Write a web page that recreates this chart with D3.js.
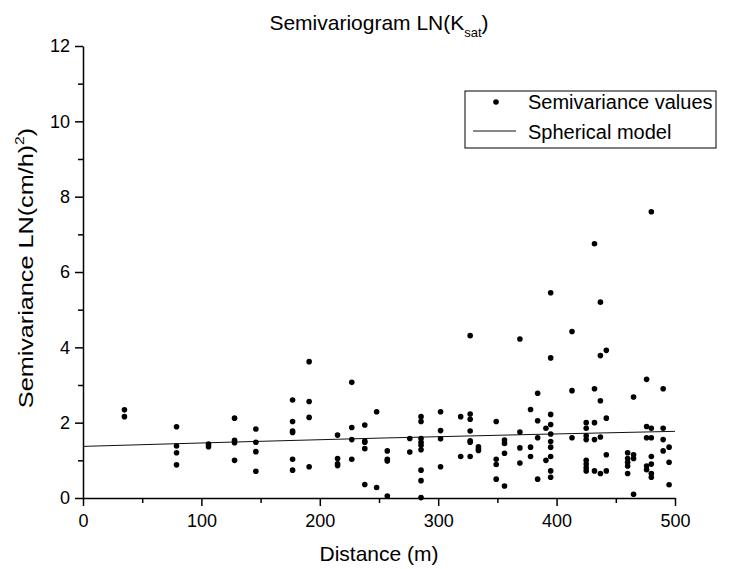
<!DOCTYPE html>
<html>
<head>
<meta charset="utf-8">
<script src="https://cdn.jsdelivr.net/npm/d3@7/dist/d3.min.js"></script>
<style>
  body { margin: 0; background: #fff; }
  text { font-family: "Liberation Sans", Arial, sans-serif; fill: #000; }
</style>
</head>
<body>
<div id="chart"></div>
<script>
const distances = [35, 79, 106, 128, 146, 177, 191, 215, 227, 238, 248, 257, 276, 285.5,
  302, 319, 327, 334, 349, 356, 369, 378, 384, 391, 395, 413, 425, 432, 437, 442,
  460, 465, 476, 480, 490, 495];
const semivariances = [
  [2.34, 2.16],
  [1.89, 1.38, 1.20, 0.88],
  [1.43, 1.36],
  [2.12, 1.53, 1.47, 1.00],
  [1.83, 1.48, 1.23, 0.71],
  [2.60, 2.03, 1.78, 1.74, 1.03, 0.74],
  [3.62, 2.56, 2.14, 0.83],
  [1.67, 1.05, 0.91, 0.86],
  [3.07, 1.87, 1.55, 1.03],
  [1.94, 1.51, 1.48, 1.31, 0.36],
  [2.29, 0.28],
  [1.25, 1.03, 0.98, 0.05],
  [1.58, 1.22],
  [2.16, 2.03, 1.58, 1.48, 1.40, 1.28, 0.74, 0.46, 0.01],
  [2.29, 1.79, 1.57, 0.83],
  [2.16, 1.10],
  [4.31, 2.23, 2.09, 1.78, 1.52, 1.48, 1.10],
  [1.36, 1.30, 1.26],
  [2.03, 1.03, 0.89, 0.50],
  [1.54, 1.45, 1.19, 0.32],
  [4.22, 1.75, 1.33, 0.93],
  [2.35, 1.35, 1.10],
  [2.78, 2.05, 1.60, 0.50],
  [1.85, 1.00],
  [5.45, 3.72, 2.22, 1.95, 1.70, 1.50, 1.35, 1.10, 0.72, 0.55],
  [4.42, 2.85, 1.60],
  [2.00, 1.85, 1.65, 1.55, 1.00, 0.90, 0.80, 0.72],
  [6.75, 2.90, 2.00, 1.55, 0.72],
  [5.20, 3.78, 2.58, 1.62, 0.65],
  [3.92, 2.12, 1.15, 0.72],
  [1.20, 1.05, 0.95, 0.85, 0.65],
  [2.68, 1.15, 1.05, 0.10],
  [3.15, 1.90, 1.60, 0.85, 0.75],
  [7.60, 1.85, 1.60, 1.10, 0.90, 0.65, 0.55],
  [2.90, 1.85, 1.55, 1.25],
  [1.35, 0.95, 0.35]
];
// fitted spherical model
const modelDistances = [0, 250, 500];
const modelValues = [1.37, 1.59, 1.77];

const xTicks = [0, 100, 200, 300, 400, 500];
const xMinorTicks = [50, 150, 250, 350, 450];
const yTicks = [0, 2, 4, 6, 8, 10, 12];
const yMinorTicks = [1, 3, 5, 7, 9, 11];

const width = 733, height = 569;
const margin = { top: 46, right: 58, bottom: 71, left: 83 };
const w = width - margin.left - margin.right;
const h = height - margin.top - margin.bottom;

const svg = d3.select("#chart").append("svg")
  .attr("width", width)
  .attr("height", height);

const g = svg.append("g")
  .attr("transform", `translate(${margin.left},${margin.top})`);

const x = d3.scaleLinear().domain([0, 500]).range([0, w]);
const y = d3.scaleLinear().domain([0, 12]).range([h, 0]);

// flatten columns into points
const points = [];
distances.forEach((d, i) => semivariances[i].forEach(v => points.push({ d: d, v: v })));

// model line
const model = modelDistances.map((d, i) => ({ d: d, v: modelValues[i] }));
g.append("path")
  .datum(model)
  .attr("fill", "none")
  .attr("stroke", "#111")
  .attr("stroke-width", 1)
  .attr("d", d3.line().x(d => x(d.d)).y(d => y(d.v)).curve(d3.curveMonotoneX));

// points
g.selectAll("circle.pt")
  .data(points)
  .enter()
  .append("circle")
  .attr("class", "pt")
  .attr("cx", d => x(d.d))
  .attr("cy", d => y(d.v))
  .attr("r", 2.8)
  .attr("fill", "#000");

// axes
g.append("g")
  .attr("transform", `translate(0,${h})`)
  .call(d3.axisBottom(x).tickValues(xTicks).tickSize(8).tickSizeOuter(0).tickPadding(8));
g.append("g")
  .attr("transform", `translate(0,${h})`)
  .call(d3.axisBottom(x).tickValues(xMinorTicks).tickSize(5).tickFormat(""))
  .select(".domain").remove();

g.append("g")
  .call(d3.axisLeft(y).tickValues(yTicks).tickSize(8).tickSizeOuter(0).tickPadding(5));
g.append("g")
  .call(d3.axisLeft(y).tickValues(yMinorTicks).tickSize(5).tickFormat(""))
  .select(".domain").remove();

g.selectAll(".tick line, .domain").attr("stroke", "#000").attr("stroke-width", 1.5);
g.selectAll(".tick text")
  .style("font-family", "'Liberation Sans', Arial, sans-serif")
  .style("font-size", "18px")
  .attr("fill", "#000");

// titles
const title = svg.append("text")
  .attr("x", margin.left + w / 2)
  .attr("y", 30)
  .attr("text-anchor", "middle")
  .style("font-size", "21px");
title.append("tspan").text("Semivariogram LN(K");
title.append("tspan").attr("dy", 7).style("font-size", "13px").text("sat");
title.append("tspan").attr("dy", -7).text(")");

svg.append("text")
  .attr("x", margin.left + w / 2)
  .attr("y", 561)
  .attr("text-anchor", "middle")
  .style("font-size", "21px")
  .text("Distance (m)");

const ylab = svg.append("text")
  .attr("transform", "translate(33,268) scale(1,1.2) rotate(-90)")
  .attr("text-anchor", "middle")
  .style("font-size", "21px");
ylab.append("tspan").text("Semivariance LN(cm/h)");
ylab.append("tspan").attr("dy", -9).style("font-size", "13px").text("2");
ylab.append("tspan").attr("dy", 9).text(")");

// legend
const lg = svg.append("g");
lg.append("rect")
  .attr("x", 465).attr("y", 91)
  .attr("width", 251).attr("height", 57)
  .attr("fill", "#fff")
  .attr("stroke", "#000")
  .attr("stroke-width", 1);
lg.append("circle").attr("cx", 496).attr("cy", 102).attr("r", 2.8).attr("fill", "#000");
lg.append("line")
  .attr("x1", 473).attr("x2", 516)
  .attr("y1", 131).attr("y2", 131)
  .attr("stroke", "#111").attr("stroke-width", 1);
lg.append("text").attr("x", 528).attr("y", 109).style("font-size", "20px").text("Semivariance values");
lg.append("text").attr("x", 528).attr("y", 139).style("font-size", "20px").text("Spherical model");
</script>
</body>
</html>
